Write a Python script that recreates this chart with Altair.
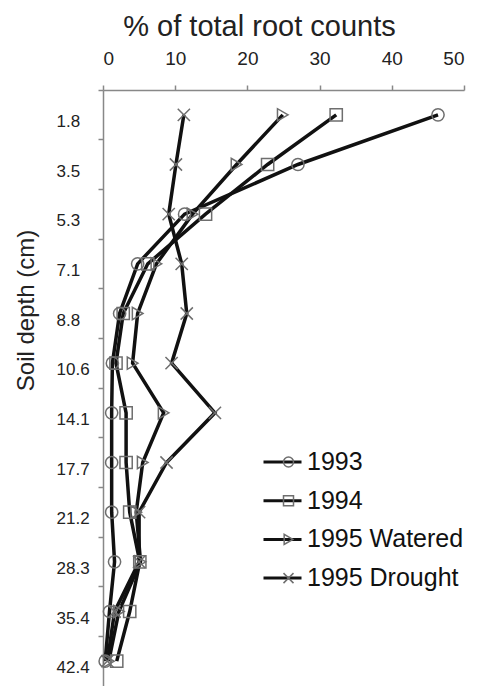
import altair as alt
import pandas as pd

depths = ["1.8", "3.5", "5.3", "7.1", "8.8", "10.6", "14.1", "17.7", "21.2", "28.3", "35.4", "42.4"]
series_names = ["1993", "1994", "1995 Watered", "1995 Drought"]
v1993 = [46.4, 27.0, 11.3, 4.8, 2.3, 1.3, 1.2, 1.2, 1.2, 1.6, 0.9, 0.3]
v1994 = [32.3, 22.8, 14.2, 6.2, 2.8, 1.8, 3.2, 3.2, 3.7, 5.1, 3.7, 1.9]
v1995w = [24.9, 18.5, 12.4, 7.4, 4.8, 4.1, 8.4, 5.5, 4.6, 5.2, 2.2, 0.8]
v1995d = [11.2, 10.1, 9.1, 10.9, 11.6, 9.5, 15.5, 8.8, 5.0, 5.0, 1.6, 0.6]
x_ticks = [0, 10, 20, 30, 40, 50]

rows = []
for name, vals in zip(series_names, [v1993, v1994, v1995w, v1995d]):
    for i, (d, v) in enumerate(zip(depths, vals)):
        rows.append({"series": name, "series2": name, "depth": d, "idx": i, "value": v})
df = pd.DataFrame(rows)

FONT = "Liberation Sans"
xpath = "M-1,-1L1,1M1,-1L-1,1"

x_enc = alt.X(
    "value:Q",
    scale=alt.Scale(domain=[0, 50], nice=False, zero=True),
    axis=alt.Axis(
        orient="top", values=x_ticks, grid=False, title="% of total root counts",
        labelFont=FONT, labelFontSize=19, labelColor="#222", labelPadding=17,
        tickSize=5, tickColor="#888", domainColor="#888", domainWidth=1.5, tickWidth=1.5,
        titleFont=FONT, titleFontSize=29, titleFontWeight="normal", titleColor="#222",
        titleX=156, titleY=-64, titleAlign="center", titleBaseline="middle",
    ),
)
y_enc = alt.Y(
    "depth:O", sort=depths,
    scale=alt.Scale(type="band", paddingInner=0, paddingOuter=0),
    axis=alt.Axis(
        grid=False, bandPosition=0, tickSize=5, tickColor="#888", tickWidth=1.5,
        domainColor="#888", domainWidth=1.5,
        labelFont=FONT, labelFontSize=17, labelColor="#222", labelAlign="left",
        labelPadding=42, labelOffset=7,
        title="Soil depth (cm)", titleFont=FONT, titleFontSize=24, titleFontWeight="normal",
        titleColor="#222", titleX=-77, titleY=220, titleAlign="center", titleBaseline="middle",
    ),
)

base = alt.Chart(df)

lines = base.mark_line(strokeWidth=3.5).encode(
    x=x_enc, y=y_enc,
    stroke=alt.Stroke(
        "series:N", sort=series_names,
        scale=alt.Scale(range=["#111111"] * 4),
        legend=alt.Legend(
            title=None, orient="none", legendX=159, legendY=353, padding=0,
            symbolType="stroke", symbolSize=1444, symbolStrokeWidth=3,
            labelFont=FONT, labelFontSize=25, labelColor="#111", labelOffset=4,
            rowPadding=0.7, clipHeight=38,
        ),
    ),
    order=alt.Order("idx:Q"),
)

points = base.mark_point(filled=False, size=150, strokeWidth=1.5, color="#6e6e6e", opacity=1).encode(
    x=x_enc, y=y_enc,
    shape=alt.Shape(
        "series2:N", sort=series_names,
        scale=alt.Scale(range=["circle", "square", "triangle-right", xpath]),
        legend=alt.Legend(
            title=None, orient="none", legendX=173, legendY=353, padding=0,
            symbolSize=100, symbolStrokeWidth=1.5, symbolStrokeColor="#6e6e6e",
            symbolFillColor="transparent",
            labelFont=FONT, labelFontSize=25, labelOpacity=0, labelOffset=5,
            rowPadding=0.7, clipHeight=38,
        ),
    ),
)

chart = (
    alt.layer(lines, points)
    .properties(
        width=361, height=596,
        autosize=alt.AutoSizeParams(type="none"),
        padding={"left": 103, "top": 90, "right": 16, "bottom": 0},
    )
    .configure_view(stroke=None)
)

chart.save("out.html", embed_options={"renderer": "svg", "actions": False})
